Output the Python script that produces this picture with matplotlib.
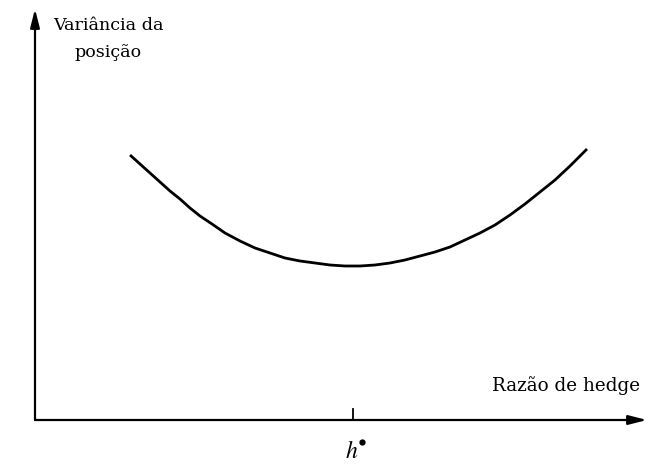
import matplotlib.pyplot as plt

# curva da variância (coordenadas, em pixels)
curva_x = [130, 140, 150, 160, 170, 180, 190, 200, 212, 225, 240, 255, 270, 285, 300, 315, 330, 345, 360, 375,
           390, 405, 420, 435, 450, 465, 480, 495, 510, 525, 540, 555, 570, 587]
curva_y = [155, 164, 173, 182, 191, 199, 208, 216, 224, 233, 241, 248, 253, 258, 261, 263, 265, 266, 266, 265,
           263, 260, 256, 252, 247, 240, 233, 225, 215, 204, 192, 180, 166, 149]

h_estrela = 353
eixo_y0 = 420
eixo_x0 = 35

plt.rcParams['font.family'] = ['DejaVu Serif']
plt.rcParams['mathtext.fontset'] = 'stix'

fig = plt.figure(figsize=(6.67, 4.66), dpi=100)
ax = fig.add_axes([0, 0, 1, 1])
ax.set_xlim(0, 667)
ax.set_ylim(466, 0)
ax.axis('off')

# eixos com setas
seta = dict(arrowstyle='-|>,head_length=1.1,head_width=0.28', color='black', lw=1.6, shrinkA=0, shrinkB=0)
ax.annotate('', xy=(647, eixo_y0), xytext=(eixo_x0, eixo_y0), arrowprops=seta)
ax.annotate('', xy=(eixo_x0, 9), xytext=(eixo_x0, eixo_y0), arrowprops=seta)

# curva
ax.plot(curva_x, curva_y, color='black', lw=2.0, solid_capstyle='butt', solid_joinstyle='round')

# marca h*
ax.plot([h_estrela, h_estrela], [409, eixo_y0], color='black', lw=1.3)
ax.text(h_estrela - 1, 451, r'$h$', ha='center', va='center', fontsize=17)
ax.plot([362], [442], marker='o', ms=3.5, color='black')

ax.text(108, 39, 'Variância da\nposição', ha='center', va='center', fontsize=12.6, linespacing=1.75)
ax.text(566, 386, 'Razão de hedge', ha='center', va='center', fontsize=13.2)

plt.savefig('out.png', dpi=100)
